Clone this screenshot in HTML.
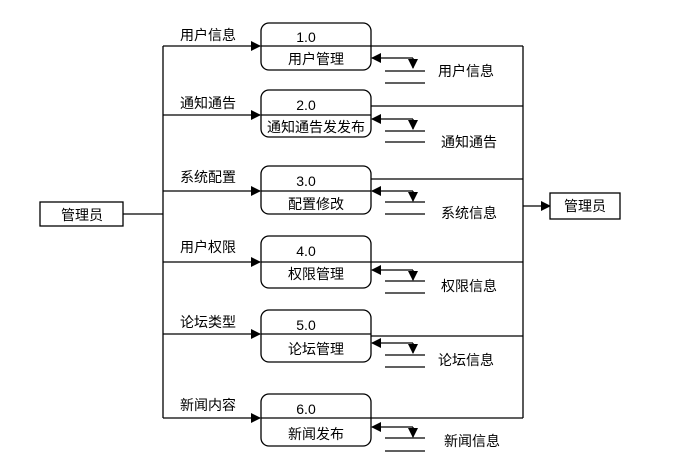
<!DOCTYPE html>
<html><head><meta charset="utf-8"><style>html,body{margin:0;padding:0;background:#fff}svg{display:block}text{font-family:"Liberation Sans","Noto Sans CJK SC",sans-serif;font-size:14px;fill:#000}</style></head><body>
<svg width="681" height="473" viewBox="0 0 681 473" xmlns="http://www.w3.org/2000/svg">
<defs><marker id="a" markerWidth="10" markerHeight="10" refX="9" refY="5" orient="auto" markerUnits="userSpaceOnUse"><path d="M0,0 L10,5 L0,10 z" fill="#000"/></marker></defs>
<g stroke="#000" stroke-width="1.3" fill="none">
<rect x="40" y="202" width="83" height="24" fill="#fff"/>
<line x1="123" y1="214" x2="163" y2="214"/>
<line x1="163" y1="46" x2="163" y2="418"/>
<line x1="523" y1="46" x2="523" y2="418"/>
<line x1="523" y1="206" x2="550" y2="206" marker-end="url(#a)"/>
<rect x="550" y="193" width="70" height="26" fill="#fff"/>
</g>
<text x="82" y="220" text-anchor="middle">管理员</text>
<text x="585" y="211" text-anchor="middle">管理员</text>
<g id="boxes" stroke="#000" stroke-width="1.3" fill="none">
<!-- box 1 -->
<rect x="261" y="23" width="110" height="47" rx="8"/><line x1="261" y1="46" x2="371" y2="46"/>
<line x1="163" y1="46" x2="260" y2="46" marker-end="url(#a)"/><line x1="371" y1="46" x2="523" y2="46"/>
<polyline points="413,58 413,68" marker-end="url(#a)"/><line x1="413" y1="58" x2="372" y2="58" marker-end="url(#a)"/>
<line x1="385" y1="71" x2="425" y2="71"/><line x1="385" y1="83" x2="425" y2="83"/>
<!-- box 2 -->
<rect x="261" y="90" width="110" height="47" rx="8"/><line x1="261" y1="115" x2="371" y2="115"/>
<line x1="163" y1="115" x2="260" y2="115" marker-end="url(#a)"/><line x1="371" y1="106" x2="523" y2="106"/>
<polyline points="413,119 413,129" marker-end="url(#a)"/><line x1="413" y1="119" x2="372" y2="119" marker-end="url(#a)"/>
<line x1="385" y1="131" x2="425" y2="131"/><line x1="385" y1="142" x2="425" y2="142"/>
<!-- box 3 -->
<rect x="261" y="166" width="110" height="48" rx="8"/><line x1="261" y1="191" x2="371" y2="191"/>
<line x1="163" y1="191" x2="260" y2="191" marker-end="url(#a)"/><line x1="371" y1="179" x2="523" y2="179"/>
<polyline points="413,191 413,201" marker-end="url(#a)"/><line x1="413" y1="191" x2="372" y2="191" marker-end="url(#a)"/>
<line x1="385" y1="202" x2="425" y2="202"/><line x1="385" y1="214" x2="425" y2="214"/>
<!-- box 4 -->
<rect x="261" y="236" width="110" height="52" rx="8"/><line x1="261" y1="262" x2="371" y2="262"/>
<line x1="163" y1="262" x2="260" y2="262" marker-end="url(#a)"/><line x1="371" y1="262" x2="523" y2="262"/>
<polyline points="413,270 413,280" marker-end="url(#a)"/><line x1="413" y1="270" x2="372" y2="270" marker-end="url(#a)"/>
<line x1="385" y1="281" x2="425" y2="281"/><line x1="385" y1="293" x2="425" y2="293"/>
<!-- box 5 -->
<rect x="261" y="310" width="110" height="52" rx="8"/><line x1="261" y1="334" x2="371" y2="334"/>
<line x1="163" y1="334" x2="260" y2="334" marker-end="url(#a)"/><line x1="371" y1="336" x2="523" y2="336"/>
<polyline points="413,343 413,353" marker-end="url(#a)"/><line x1="413" y1="343" x2="372" y2="343" marker-end="url(#a)"/>
<line x1="385" y1="355" x2="425" y2="355"/><line x1="385" y1="367" x2="425" y2="367"/>
<!-- box 6 -->
<rect x="261" y="394" width="110" height="52" rx="8"/><line x1="261" y1="418" x2="371" y2="418"/>
<line x1="163" y1="418" x2="260" y2="418" marker-end="url(#a)"/><line x1="371" y1="418" x2="523" y2="418"/>
<polyline points="413,427 413,437" marker-end="url(#a)"/><line x1="413" y1="427" x2="372" y2="427" marker-end="url(#a)"/>
<line x1="385" y1="438" x2="425" y2="438"/><line x1="385" y1="451" x2="425" y2="451"/>
</g>
<g>
<text x="180" y="40">用户信息</text><text x="306" y="42" text-anchor="middle">1.0</text><text x="316" y="64" text-anchor="middle">用户管理</text><text x="438" y="76">用户信息</text>
<text x="180" y="108">通知通告</text><text x="306" y="110" text-anchor="middle">2.0</text><text x="316" y="132" text-anchor="middle">通知通告发发布</text><text x="441" y="147">通知通告</text>
<text x="180" y="182">系统配置</text><text x="306" y="186" text-anchor="middle">3.0</text><text x="316" y="209" text-anchor="middle">配置修改</text><text x="441" y="218">系统信息</text>
<text x="180" y="252">用户权限</text><text x="306" y="256" text-anchor="middle">4.0</text><text x="316" y="279" text-anchor="middle">权限管理</text><text x="441" y="291">权限信息</text>
<text x="180" y="327">论坛类型</text><text x="306" y="330" text-anchor="middle">5.0</text><text x="316" y="354" text-anchor="middle">论坛管理</text><text x="438" y="365">论坛信息</text>
<text x="180" y="410">新闻内容</text><text x="306" y="414" text-anchor="middle">6.0</text><text x="316" y="439" text-anchor="middle">新闻发布</text><text x="444" y="446">新闻信息</text>
</g>
</svg>
</body></html>
